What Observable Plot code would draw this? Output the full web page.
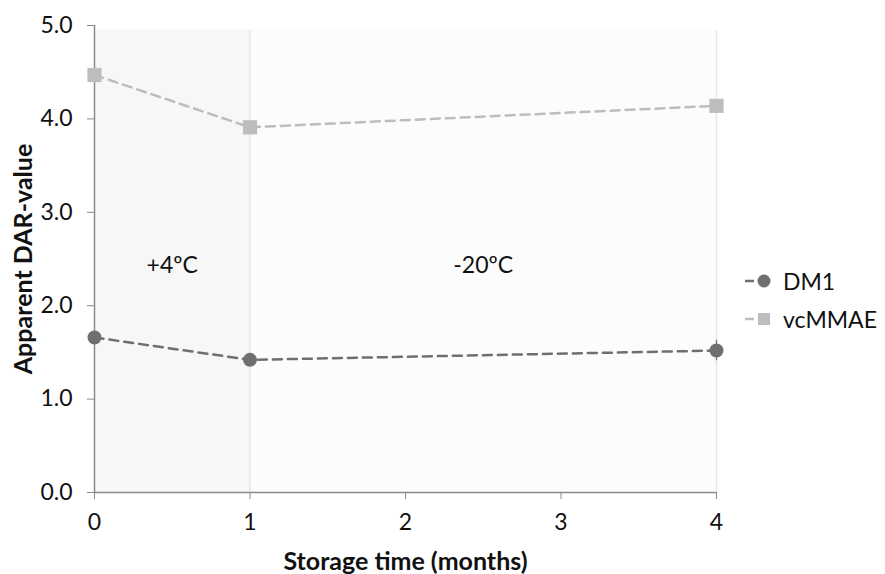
<!DOCTYPE html>
<html><head><meta charset="utf-8">
<script src="https://cdn.jsdelivr.net/npm/d3@7"></script>
<script src="https://cdn.jsdelivr.net/npm/@observablehq/plot@0.6"></script>
<style>
body{margin:0;background:#fff;font-family:Lato,"Open Sans",sans-serif;}
#wrap{position:relative;width:885px;height:574px;overflow:hidden;}
#legend{position:absolute;left:743px;top:262px;font-size:23px;color:#111;}
#legend div{display:flex;align-items:center;height:38px;}
#legend svg{margin-right:8px;}
</style></head>
<body><div id="wrap"><div id="chart"></div><div id="legend"></div></div>
<script>
const months = [0, 1, 4];
const dm1 = [1.66, 1.42, 1.52];
const vcmmae = [4.47, 3.91, 4.14];
const seriesNames = ["DM1", "vcMMAE"];
const xTicks = [0, 1, 2, 3, 4];
const yTicks = [0, 1, 2, 3, 4, 5];
const regions = [{x1: 0, x2: 1, label: "+4ºC"}, {x1: 1, x2: 4, label: "-20ºC"}];
const dm1Err = {x: 4, lo: 1.41, hi: 1.63};

const colors = {DM1: "#6f6f6f", vcMMAE: "#bdbdbd"};
const data = [
  ...months.map((m, i) => ({series: "DM1", x: m, y: dm1[i]})),
  ...months.map((m, i) => ({series: "vcMMAE", x: m, y: vcmmae[i]}))
];

const chart = Plot.plot({
  width: 885, height: 574,
  marginLeft: 94, marginRight: 169, marginTop: 25, marginBottom: 82,
  style: {fontFamily: "Lato, 'Open Sans', sans-serif", fontSize: "23px", color: "#111", background: "#fff", overflow: "visible"},
  x: {domain: [0, 4]},
  y: {domain: [0, 5]},
  marks: [
    Plot.rect(regions, {x1: "x1", x2: "x2", y1: 0, y2: 4.95, fill: (d, i) => i === 0 ? "#f7f7f7" : "#fcfcfc"}),
    Plot.ruleX([1, 4], {y1: 0, y2: 4.95, stroke: "#e6e6e6", strokeWidth: 1.5}),
    Plot.text(regions, {x: d => (d.x1 + d.x2) / 2, y: 2.43, text: "label", fontSize: 23, fill: "#111"}),
    Plot.ruleX([0], {y1: 0, y2: 5, stroke: "#8a8a8a", strokeWidth: 1.5}),
    Plot.ruleY([0], {stroke: "#8a8a8a", strokeWidth: 1.5}),
    Plot.axisY({ticks: yTicks, tickFormat: d3.format(".1f"), tickSize: 7, tickPadding: 15, stroke: "#8a8a8a", label: null, fontSize: 23}),
    Plot.axisX({ticks: xTicks, tickFormat: d3.format("d"), tickSize: 7, tickPadding: 14, stroke: "#8a8a8a", label: null, fontSize: 23}),
    Plot.ruleX([dm1Err], {x: "x", y1: "lo", y2: "hi", stroke: "#6f6f6f", strokeWidth: 1.2}),
    Plot.line(data, {x: "x", y: "y", z: "series", stroke: d => colors[d.series], strokeWidth: 2.5, strokeDasharray: "9,6"}),
    Plot.dot(data.filter(d => d.series === "DM1"), {x: "x", y: "y", r: 7, fill: colors.DM1, symbol: "circle"}),
    Plot.dot(data.filter(d => d.series === "vcMMAE"), {x: "x", y: "y", r: 8, fill: colors.vcMMAE, symbol: "square"}),
    Plot.text(["Storage time (months)"], {frameAnchor: "bottom", dy: 77, text: d => d, fontSize: 25, fontWeight: "bold"}),
    Plot.text(["Apparent DAR-value"], {frameAnchor: "left", textAnchor: "middle", dx: -71, dy: 0, rotate: -90, text: d => d, fontSize: 25, fontWeight: "bold"})
  ]
});
document.getElementById("chart").append(chart);

const leg = document.getElementById("legend");
seriesNames.forEach(s => {
  const row = document.createElement("div");
  const sym = s === "DM1"
    ? `<circle cx="21" cy="10" r="6.5" fill="${colors[s]}"/>`
    : `<rect x="15" y="4" width="12" height="12" fill="${colors[s]}"/>`;
  row.innerHTML = `<svg width="32" height="20"><line x1="2" x2="30" y1="10" y2="10" stroke="${colors[s]}" stroke-width="2.5" stroke-dasharray="9,6"/>${sym}</svg><span>${s}</span>`;
  leg.append(row);
});
</script></body></html>
